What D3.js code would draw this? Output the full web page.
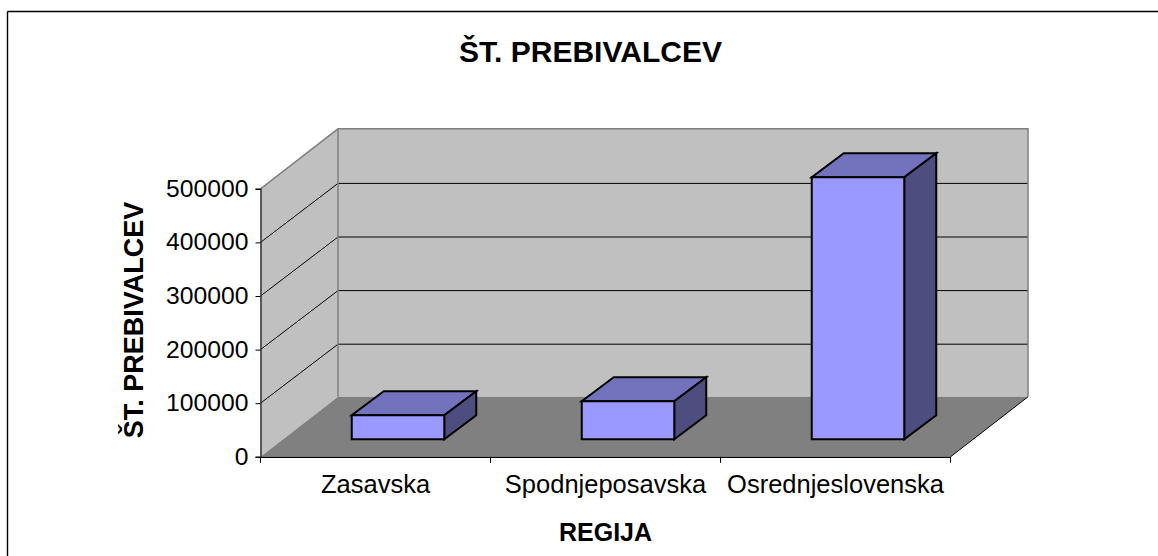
<!DOCTYPE html>
<html><head><meta charset="utf-8">
<script src="https://cdn.jsdelivr.net/npm/d3@7"></script>
<style>html,body{margin:0;padding:0;background:#fff}svg{display:block}text{font-family:"Liberation Sans",Arial,sans-serif;fill:#000}</style>
</head><body><div id="c"></div>
<script>
const categories = ["Zasavska","Spodnjeposavska","Osrednjeslovenska"];
const values = [45000,71000,489000];
const yTicks = [0,100000,200000,300000,400000,500000];
const titleText = "ŠT. PREBIVALCEV";
const xTitleText = "REGIJA";
const yTitleText = "ŠT. PREBIVALCEV";

const W=1158,H=556;
const svg=d3.select("#c").append("svg").attr("width",W).attr("height",H);
const x=d3.scaleBand().domain(categories).range([260.5,950.5]);
const y=d3.scaleLinear().domain([0,500000]).range([456.8,188.8]);
const dx=77.5, dy=-60, gridDy=-59;
const barW=92.5, barDx=32, barDy=-24, offX=22.5, offY=-17.5;
const poly=p=>p.map(a=>a.join(",")).join(" ");
const x0=x.range()[0], x1=x.range()[1], yB=y(0), yT=y(500000);

// chart frame (top and left only)
[[[7.5,11.5],[W,11.5]],[[7.5,11.5],[7.5,H]]].forEach(l=>{
  svg.append("line").attr("x1",l[0][0]).attr("y1",l[0][1]).attr("x2",l[1][0]).attr("y2",l[1][1])
    .attr("stroke","#000").attr("stroke-width",1.4);
});

// walls and floor
svg.append("polygon").attr("points",poly([[x0+dx,yT+dy],[x1+dx,yT+dy],[x1+dx,yB+dy],[x0+dx,yB+dy]])).attr("fill","#C0C0C0");
svg.append("polygon").attr("points",poly([[x0,yT],[x0+dx,yT+dy],[x0+dx,yB+dy],[x0,yB]])).attr("fill","#C0C0C0");
svg.append("polygon").attr("points",poly([[x0,yB],[x1,yB],[x1+dx,yB+dy],[x0+dx,yB+dy]])).attr("fill","#808080");

// gridlines
svg.append("g").selectAll("polyline").data(yTicks.filter(d=>d>0&&d<500000)).join("polyline")
  .attr("points",d=>poly([[x0,y(d)],[x0+dx,y(d)+gridDy],[x1+dx,y(d)+gridDy]]))
  .attr("fill","none").attr("stroke","#000").attr("stroke-width",1);

// wall edges
svg.append("polyline").attr("points",poly([[x0,yT],[x0+dx,yT+dy],[x1+dx,yT+dy],[x1+dx,yB+dy]]))
  .attr("fill","none").attr("stroke","#808080").attr("stroke-width",1.5);
svg.append("line").attr("x1",x0+dx).attr("y1",yT+dy).attr("x2",x0+dx).attr("y2",yB+dy)
  .attr("stroke","#808080").attr("stroke-width",1.5);
svg.append("line").attr("x1",x1).attr("y1",yB).attr("x2",x1+dx).attr("y2",yB+dy)
  .attr("stroke","#000").attr("stroke-width",1);

// bars
const bars=svg.append("g").selectAll("g").data(categories.map((c,i)=>({c,v:values[i]}))).join("g");
const bx=d=>x(d.c)+x.bandwidth()/2-barW/2+offX;
const front=d=>({l:bx(d),r:bx(d)+barW,t:y(d.v)+offY,b:yB+offY});
const stroke=s=>s.attr("stroke","#000").attr("stroke-width",2).attr("stroke-linejoin","miter");
bars.append("polygon").attr("points",d=>{const f=front(d);return poly([[f.l,f.t],[f.r,f.t],[f.r+barDx,f.t+barDy],[f.l+barDx,f.t+barDy]])}).attr("fill","#7373BD").call(stroke);
bars.append("polygon").attr("points",d=>{const f=front(d);return poly([[f.r,f.t],[f.r+barDx,f.t+barDy],[f.r+barDx,f.b+barDy],[f.r,f.b]])}).attr("fill","#4D4D80").call(stroke);
bars.append("polygon").attr("points",d=>{const f=front(d);return poly([[f.l,f.t],[f.r,f.t],[f.r,f.b],[f.l,f.b]])}).attr("fill","#9999FF").call(stroke);

// y axis
const yAxis=svg.append("g").attr("transform",`translate(${x0},0)`)
  .call(d3.axisLeft(y).tickValues(yTicks).tickFormat(d3.format("d")).tickSize(5).tickPadding(7));
yAxis.select(".domain").attr("stroke","#333").attr("stroke-width",1.5);
yAxis.selectAll("text").style("font-size","24.7px").attr("dy","0.3em");

// x axis: labels centred in bands, tick marks at band edges
const xAxis=svg.append("g").attr("transform",`translate(0,${yB})`)
  .call(d3.axisBottom(x).tickSize(0).tickPadding(18));
xAxis.select(".domain").attr("stroke","#000").attr("stroke-width",1.2);
xAxis.selectAll("text").style("font-size","25.5px");
const edges=categories.map(c=>x(c)).concat([x1]);
xAxis.selectAll("line.edge").data(edges).join("line").attr("class","edge")
  .attr("x1",d=>d).attr("x2",d=>d).attr("y1",0).attr("y2",6).attr("stroke","#000");

// titles
svg.append("text").attr("x",590.5).attr("y",62).attr("text-anchor","middle").style("font-size","30px").style("font-weight","bold").text(titleText);
svg.append("text").attr("x",605.5).attr("y",541).attr("text-anchor","middle").style("font-size","25px").style("font-weight","bold").text(xTitleText);
svg.append("text").attr("transform","translate(143,320) rotate(-90)").attr("text-anchor","middle").style("font-size","27px").style("font-weight","bold").text(yTitleText);
</script></body></html>
